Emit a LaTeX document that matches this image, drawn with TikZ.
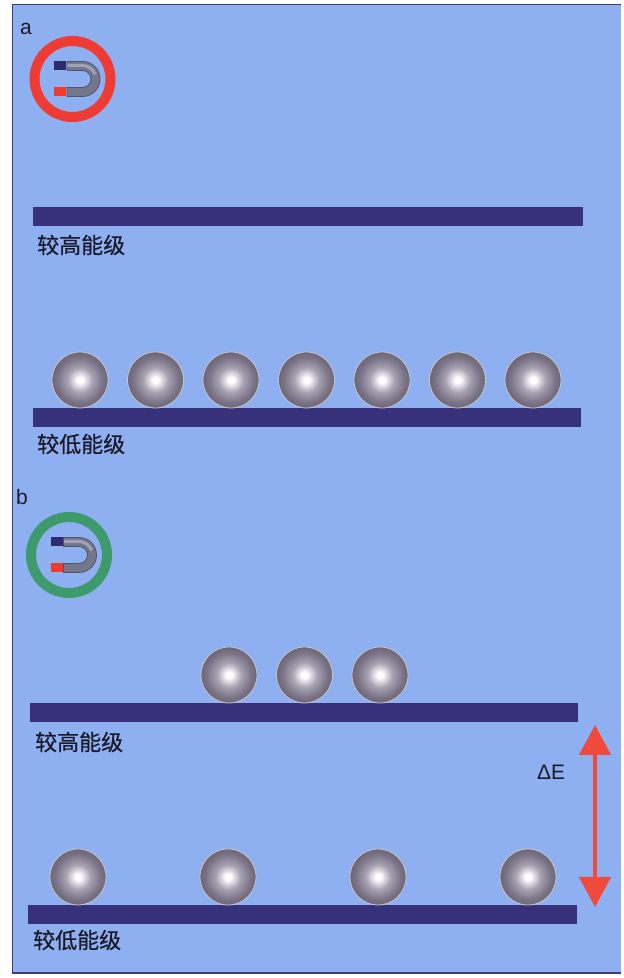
\documentclass[tikz,border=0pt]{standalone}
\usepackage{fontspec}
\setmainfont{Liberation Sans}
\newfontfamily\cjk{Noto Sans CJK SC}[FakeBold=0.6]
\usetikzlibrary{arrows.meta}

\definecolor{panelbg}{HTML}{8FB0F0}
\definecolor{frameline}{HTML}{3C3C78}
\definecolor{barcol}{HTML}{36317A}
\definecolor{ballmid}{HTML}{A8A3B3}
\definecolor{balldark}{HTML}{7A7486}
\definecolor{ballrim}{HTML}{6C6678}
\definecolor{ringred}{HTML}{EE3B33}
\definecolor{ringgreen}{HTML}{3C9A6C}
\definecolor{arrowred}{HTML}{F04A3C}
\definecolor{magbody}{HTML}{74768A}
\definecolor{magedge}{HTML}{505270}
\definecolor{maglight}{HTML}{A0A2B6}
\definecolor{magnorth}{HTML}{2E2A70}
\definecolor{magsouth}{HTML}{F03A2A}
\definecolor{inktext}{HTML}{1A1A2A}

% sphere shading: bright core, grey body, darker rim
\pgfdeclareradialshading{sphere}{\pgfpoint{0bp}{0bp}}{%
  color(0bp)=(white); color(2.5bp)=(white); color(11bp)=(ballmid);
  color(20bp)=(balldark); color(25bp)=(ballrim); color(50bp)=(ballrim)}

\tikzset{
  ball/.style={circle, minimum size=56pt, inner sep=0pt, shading=sphere,
    draw=white!55!gray, line width=0.8pt},
  level/.style={rectangle, anchor=south west, fill=barcol, inner sep=0pt,
    minimum height=19pt},
  lvltext/.style={anchor=west, inner sep=0pt, font=\cjk\fontsize{22}{22}\selectfont,
    text=inktext},
  panellabel/.style={anchor=base west, inner sep=0pt,
    font=\fontsize{21}{21}\selectfont, text=inktext},
  ring/.style={line width=10pt},
  % horseshoe magnet, opening to the left, drawn around the bend centre
  magnet/.pic={
    \fill[magbody, draw=magedge, line width=0.8pt]
      (-15.5pt,-17.5pt) -- (0pt,-17.5pt)
      arc[start angle=-90, end angle=90, radius=17.5pt]
      -- (-15.5pt,17.5pt) -- (-15.5pt,8.5pt) -- (0pt,8.5pt)
      arc[start angle=90, end angle=-90, radius=8.5pt]
      -- (-15.5pt,-8.5pt) -- cycle;
    \draw[maglight, line width=3pt]
      (-15pt,13.5pt) -- (0pt,13.5pt) arc[start angle=90, end angle=20, radius=13.5pt];
    \fill[magnorth] (-28.5pt,8.5pt) rectangle (-16.5pt,17.5pt);
    \fill[magsouth] (-28.5pt,-17.5pt) rectangle (-16.5pt,-8.5pt);
  }
}

\begin{document}
\begin{tikzpicture}[x=1pt, y=1pt]
  \useasboundingbox (0,0) rectangle (624,978);
  \fill[white] (0,0) rectangle (624,978);

  % panel background and frame
  \fill[panelbg] (12.5,5) rectangle (621,973.5);
  \draw[frameline, line width=1.5pt] (621,973.5) -- (12.5,973.5) -- (12.5,5) -- (621,5);

  % ---------- panel a ----------
  \node[panellabel] (la) at (20,943) {a};
  \draw[ringred, ring] (72.5,899) circle[radius=38pt];
  \pic at (82.5,899) {magnet};

  \node[level, minimum width=550pt] (barA1) at (33,752) {};
  \node[lvltext] (txtA1) at (37,733) {较高能级};

  \node[level, minimum width=548pt] (barA2) at (33,551) {};
  \node[lvltext] (txtA2) at (37,534) {较低能级};
  \foreach \x [count=\i] in {80,155.5,231,306.5,382,457.5,533}
    \node[ball] (a\i) at (\x,598) {};

  % ---------- panel b ----------
  \node[panellabel] (lb) at (16,473) {b};
  \draw[ringgreen, ring] (69,423) circle[radius=38pt];
  \pic at (79,423) {magnet};

  \node[level, minimum width=548pt] (barB1) at (30,256) {};
  \node[lvltext] (txtB1) at (35,236) {较高能级};
  \foreach \x [count=\i] in {229,304.5,380}
    \node[ball] (bu\i) at (\x,303) {};

  \node[level, minimum width=549pt] (barB2) at (28,54) {};
  \node[lvltext] (txtB2) at (33,38) {较低能级};
  \foreach \x [count=\i] in {78,228,378,528}
    \node[ball] (bl\i) at (\x,101) {};

  % energy gap arrow
  \coordinate (dEtop) at (595,253);
  \coordinate (dEbot) at (595,71);
  \draw[arrowred, line width=4.5pt,
    {Triangle[length=30pt,width=31pt]}-{Triangle[length=30pt,width=31pt]}]
    (dEtop) -- (dEbot);
  \node[panellabel] (dE) at (537,198) {ΔE};
\end{tikzpicture}
\end{document}
